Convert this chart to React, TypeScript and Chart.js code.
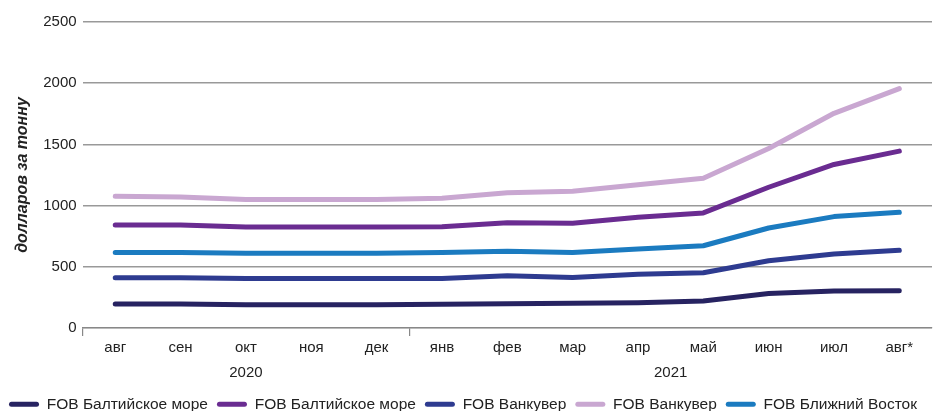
import React, { useEffect, useRef } from "react";
import { Chart, registerables } from "chart.js";

Chart.register(...registerables);

const categories = ["авг", "сен", "окт", "ноя", "дек", "янв", "фев", "мар", "апр", "май", "июн", "июл", "авг*"];
const years = [
  { label: "2020", from: 0, to: 4 },
  { label: "2021", from: 5, to: 12 },
];
const yTicks = [0, 500, 1000, 1500, 2000, 2500];

const balticA = [197, 197, 190, 190, 190, 194, 199, 202, 207, 221, 281, 303, 305];
const balticB = [842, 842, 825, 825, 825, 828, 860, 855, 904, 940, 1150, 1336, 1445];
const vancouverA = [410, 410, 405, 405, 405, 404, 426, 412, 440, 451, 549, 604, 635];
const vancouverB = [1076, 1070, 1050, 1050, 1050, 1060, 1105, 1117, 1170, 1224, 1467, 1754, 1956];
const farEast = [617, 617, 610, 610, 610, 617, 628, 617, 645, 672, 817, 910, 945];

const seriesNames = [
  "FOB Балтийское море",
  "FOB Балтийское море",
  "FOB Ванкувер",
  "FOB Ванкувер",
  "FOB Ближний Восток",
];
const seriesColors = ["#272361", "#6a2c91", "#2e3b90", "#c9a7d1", "#1b7bc0"];

const FONT = "'Liberation Sans', Arial, sans-serif";

export default function App() {
  const ref = useRef<HTMLCanvasElement | null>(null);

  useEffect(() => {
    if (!ref.current) return;
    const data = [balticA, balticB, vancouverA, vancouverB, farEast];
    const yearPlugin = {
      id: "yearLabels",
      afterDraw(chart: any) {
        const x = chart.scales.x;
        const ctx = chart.ctx;
        ctx.save();
        ctx.fillStyle = "#222";
        ctx.font = `15px ${FONT}`;
        ctx.textAlign = "center";
        ctx.textBaseline = "middle";
        years.forEach((y) => {
          const cx = (x.getPixelForValue(y.from) + x.getPixelForValue(y.to)) / 2;
          ctx.fillText(y.label, cx, chart.chartArea.bottom + 45);
        });
        ctx.restore();
      },
    };
    const defaultGen = (Chart as any).defaults.plugins.legend.labels.generateLabels;
    const chart = new Chart(ref.current, {
      type: "line",
      data: {
        labels: categories,
        datasets: data.map((d, i) => ({
          label: seriesNames[i],
          data: d,
          borderColor: seriesColors[i],
          backgroundColor: seriesColors[i],
          borderWidth: 5,
          borderCapStyle: "round",
          borderJoinStyle: "round",
          pointRadius: 0,
          tension: 0,
        })),
      },
      options: {
        animation: false,
        responsive: false,
        maintainAspectRatio: false,
        layout: { padding: { top: 22, right: 7, left: 0, bottom: -11 } },
        plugins: {
          tooltip: { enabled: false },
          legend: {
            position: "bottom",
            align: "start",
            labels: {
              color: "#222",
              font: { family: FONT, size: 15.5 },
              boxWidth: 30,
              boxHeight: 5,
              useBorderRadius: true,
              borderRadius: 2.5,
              padding: 9,
              generateLabels: (c: any) =>
                defaultGen(c).map((it: any) => ({ ...it, lineWidth: 0, strokeStyle: "rgba(0,0,0,0)" })),
            },
          },
        },
        scales: {
          x: {
            offset: true,
            border: { display: true, color: "#888", width: 1.2 },
            grid: {
              offset: true,
              drawOnChartArea: false,
              drawTicks: true,
              tickLength: 8,
              color: (c: any) => (c.index === 0 || c.index === 5 || c.index === 13 ? "#888" : "rgba(0,0,0,0)"),
              lineWidth: 1.2,
            },
            ticks: {
              color: "#222",
              font: { family: FONT, size: 15 },
              padding: 3,
              maxRotation: 0,
              autoSkip: false,
            },
            afterFit: (s: any) => {
              s.height = 59.5;
            },
          },
          y: {
            min: 0,
            max: 2500,
            afterBuildTicks: (s: any) => {
              s.ticks = yTicks.map((v) => ({ value: v }));
            },
            border: { display: false },
            grid: {
              color: "#999",
              lineWidth: 1.5,
              drawTicks: false,
            },
            ticks: {
              color: "#222",
              font: { family: FONT, size: 15 },
              padding: 6,
              callback: (v: any) => String(v),
            },
            title: {
              display: true,
              text: "долларов за тонну",
              color: "#222",
              font: { family: FONT, size: 16, style: "italic", weight: "bold" },
              padding: { top: 13, bottom: 5 },
            },
          },
        },
      },
      plugins: [yearPlugin],
    } as any);
    return () => chart.destroy();
  }, []);

  return (
    <div style={{ position: "fixed", left: 0, top: 0, width: 939, height: 411, background: "#fff" }}>
      <canvas ref={ref} width={939} height={411} style={{ width: 939, height: 411 }} />
    </div>
  );
}
